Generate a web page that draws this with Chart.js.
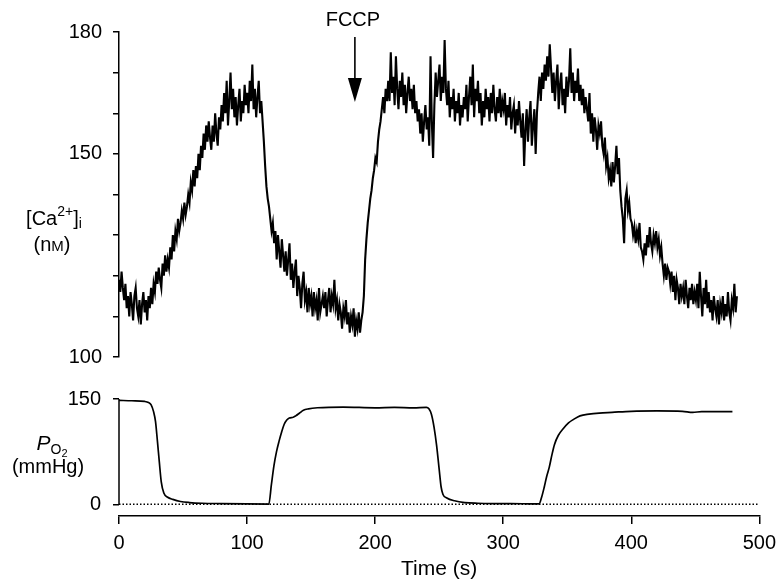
<!DOCTYPE html>
<html>
<head>
<meta charset="utf-8">
<script src="https://cdn.jsdelivr.net/npm/chart.js@4.4.0/dist/chart.umd.min.js"></script>
<style>
  html, body { margin: 0; padding: 0; background: #fff; overflow: hidden; }
  #wrap { position: relative; width: 783px; height: 584px; }
  #top { position: absolute; left: 0; top: 0; }
  #bottom { position: absolute; left: 0; top: 375px; }
</style>
</head>
<body>
<div id="wrap">
  <canvas id="top" width="783" height="380"></canvas>
  <canvas id="bottom" width="783" height="207"></canvas>
</div>
<script>
// [Ca2+]i trace (nM), one sample per second from t = 0
var caStep = 1;
var caValues = [
  119, 116, 121, 117, 114, 118, 112, 115, 110, 116,
  113, 109, 115, 117, 112, 110, 114, 108, 113, 116,
  111, 114, 109, 115, 112, 117, 113, 118, 116, 121,
  118, 122, 119, 117, 123, 120, 125, 121, 124, 122,
  127, 124, 130, 126, 131, 129, 134, 131, 133, 136,
  134, 138, 135, 137, 140, 138, 143, 141, 146, 142,
  147, 144, 150, 146, 152, 149, 155, 151, 157, 153,
  158, 154, 151, 157, 153, 160, 155, 152, 159, 156,
  162, 158, 165, 160, 168, 157, 163, 170, 161, 166,
  159, 164, 157, 162, 166, 158, 163, 160, 167, 162,
  165, 160, 168, 163, 172, 161, 166, 159, 164, 168,
  160, 163, 158, 153, 147, 142, 139, 137, 134, 131,
  133, 128, 131, 124, 130, 126, 122, 129, 125, 121,
  126, 120, 124, 128, 119, 123, 117, 121, 124, 115,
  120, 117, 112, 118, 121, 114, 116, 111, 117, 113,
  115, 110, 116, 112, 114, 109, 117, 111, 113, 115,
  112, 116, 110, 114, 117, 111, 115, 113, 119, 112,
  114, 109, 113, 111, 107, 112, 110, 114, 108, 111,
  106, 110, 108, 112, 105, 109, 107, 111, 106, 109,
  111, 115, 124, 129, 133, 136, 139, 141, 144, 146,
  149, 148, 153, 156, 158, 161, 164, 160, 166, 163,
  168, 163, 175, 165, 169, 162, 174, 166, 161, 168,
  164, 170, 162, 167, 160, 165, 169, 163, 166, 161,
  167, 160, 163, 158, 161, 155, 160, 153, 158, 162,
  156, 159, 152, 174, 158, 149, 162, 170, 164, 168,
  172, 163, 169, 165, 178, 166, 162, 168, 159, 164,
  161, 166, 158, 163, 160, 165, 157, 162, 159, 164,
  161, 167, 158, 164, 169, 162, 172, 159, 166, 163,
  168, 160, 165, 157, 163, 159, 166, 161, 164, 158,
  165, 160, 167, 161, 158, 164, 160, 166, 159, 163,
  161, 165, 157, 162, 159, 164, 156, 160, 162, 155,
  161, 157, 163, 158, 154, 160, 147, 156, 161, 153,
  159, 163, 152, 157, 161, 150, 160, 165, 169, 163,
  170, 166, 172, 168, 174, 169, 177, 171, 165, 170,
  163, 168, 172, 161, 167, 170, 162, 166, 160, 169,
  164, 168, 176, 165, 170, 163, 168, 165, 171, 163,
  167, 162, 166, 160, 164, 161, 158, 165, 155, 160,
  153, 159, 156, 151, 157, 155, 158, 152, 150, 154,
  147, 149, 144, 146, 142, 148, 143, 147, 152, 145,
  149, 141, 137, 134, 128, 139, 141, 136, 138, 134,
  133, 130, 132, 128, 131, 129, 133, 127, 126, 124,
  128, 125, 130, 127, 132, 128, 126, 130, 128, 131,
  127, 129, 125, 127, 123, 120, 123, 119, 122, 121,
  118, 121, 116, 120, 114, 119, 117, 113, 118, 115,
  117, 113, 119, 115, 112, 117, 114, 118, 113, 116,
  114, 118, 112, 121, 115, 110, 117, 113, 119, 112,
  116, 111, 114, 109, 115, 112, 110, 114, 108, 113,
  111, 115, 109, 113, 110, 116, 111, 109, 114, 112,
  118, 111, 115
];

// PO2 trace (mmHg)
var po2Times = [0, 10, 20, 23, 25, 27, 28.5, 30, 31.5, 33, 35, 38, 42, 48, 55, 65, 80, 100, 117,
  119, 121, 123, 125, 127, 129, 131, 133, 136, 138, 141, 144, 148, 155, 175, 200, 215, 230, 240,
  242, 244, 246, 248, 250, 251.5, 253, 256, 262, 270, 280, 295, 315, 328,
  330, 332, 334, 336, 338, 340, 343, 347, 351, 355, 360, 367, 375, 385, 400, 420, 440, 448, 455, 470, 479];
var po2Values = [148, 147.5, 146.5, 145, 142, 132, 118, 90, 60, 32, 16, 10, 7, 4, 2.5, 1.5, 1, 0.5, 0.3,
  28, 55, 75, 90, 103, 114, 120, 123, 124, 126, 130, 134, 136, 137.5, 138.5, 137.5, 138, 137.5, 138,
  136, 128, 110, 84, 50, 25, 14, 9, 5, 2.5, 1.5, 1, 0.8, 0.5,
  10, 24, 40, 53, 70, 85, 98, 108, 116, 121, 126, 128.5, 130, 131, 132.5, 133, 132.5, 131, 132, 132, 132];

var caTickLabels = [100, 150, 180];
var po2Ticks = [0, 150];
var timeTicks = [0, 100, 200, 300, 400, 500];
var fccpTime = 184;

var FONT = '"Liberation Sans", Arial, sans-serif';
var INK = '#000';

function fixWidth(w) {
  return function (scale) { scale.width = w; };
}

function f(size, style) {
  return (style ? style + ' ' : '') + size + 'px ' + FONT;
}

// draws a label made of several pieces (super/subscripts), centred on cx
function richText(ctx, parts, cx, baseline) {
  var total = 0;
  parts.forEach(function (p) {
    ctx.font = p.font;
    p.w = ctx.measureText(p.t).width;
    total += p.w;
  });
  var x = cx - total / 2;
  ctx.textAlign = 'left';
  ctx.textBaseline = 'alphabetic';
  parts.forEach(function (p) {
    ctx.font = p.font;
    ctx.fillText(p.t, x, baseline + (p.dy || 0));
    x += p.w;
  });
}

var caLabels = {
  id: 'caLabels',
  afterDraw: function (chart) {
    var ctx = chart.ctx;
    var ax = chart.scales.x.getPixelForValue(fccpTime);
    ctx.save();
    ctx.fillStyle = INK;
    ctx.strokeStyle = INK;
    richText(ctx, [{ t: 'FCCP', font: f(20) }], ax - 2, 26);
    ctx.lineWidth = 1.6;
    ctx.beginPath();
    ctx.moveTo(ax, 37);
    ctx.lineTo(ax, 82);
    ctx.stroke();
    ctx.beginPath();
    ctx.moveTo(ax - 7, 78);
    ctx.lineTo(ax + 7, 78);
    ctx.lineTo(ax, 102);
    ctx.closePath();
    ctx.fill();

    richText(ctx, [
      { t: '[Ca', font: f(20) },
      { t: '2+', font: f(14), dy: -9 },
      { t: ']', font: f(20) },
      { t: 'i', font: f(14), dy: 3 }
    ], 54, 225);
    richText(ctx, [
      { t: '(n', font: f(20) },
      { t: 'M', font: f(15) },
      { t: ')', font: f(20) }
    ], 52, 251);
    ctx.restore();
  }
};

var po2Labels = {
  id: 'po2Labels',
  afterDraw: function (chart) {
    var ctx = chart.ctx;
    var y = chart.scales.y;
    var left = chart.chartArea.left;
    ctx.save();
    // y axis line only spans 0..150
    ctx.strokeStyle = INK;
    ctx.lineWidth = 1.5;
    ctx.beginPath();
    ctx.moveTo(left, y.getPixelForValue(150));
    ctx.lineTo(left, y.getPixelForValue(0));
    ctx.stroke();

    ctx.fillStyle = INK;
    richText(ctx, [
      { t: 'P', font: f(21, 'italic') },
      { t: 'O', font: f(14), dy: 4 },
      { t: '2', font: f(11), dy: 7 }
    ], 52, 75);
    richText(ctx, [{ t: '(mmHg)', font: f(20) }], 48, 98);
    ctx.restore();
  }
};

var caData = caValues.map(function (v, i) { return { x: i * caStep, y: v }; });
var po2Data = po2Times.map(function (t, i) { return { x: t, y: po2Values[i] }; });

var tickFont = { family: FONT, size: 20 };

new Chart(document.getElementById('top'), {
  type: 'line',
  data: {
    datasets: [{
      data: caData,
      borderColor: INK,
      borderWidth: 2.1,
      pointRadius: 0,
      tension: 0
    }]
  },
  options: {
    responsive: false,
    animation: false,
    layout: { padding: { top: 32, right: 23, bottom: 18, left: 0 } },
    plugins: { legend: { display: false }, tooltip: { enabled: false } },
    scales: {
      x: { type: 'linear', min: 0, max: 500, display: false },
      y: {
        min: 100,
        max: 180,
        afterFit: fixWidth(119),
        border: { display: true, color: INK, width: 1.5 },
        grid: { drawOnChartArea: false, drawTicks: true, tickLength: 6, color: INK, lineWidth: 1.5 },
        ticks: {
          stepSize: 10,
          color: INK,
          padding: 11,
          font: tickFont,
          callback: function (v) { return caTickLabels.indexOf(v) >= 0 ? String(v) : ''; }
        }
      }
    }
  },
  plugins: [caLabels]
});

new Chart(document.getElementById('bottom'), {
  type: 'line',
  data: {
    datasets: [{
      data: po2Data,
      borderColor: INK,
      borderWidth: 1.7,
      pointRadius: 0,
      cubicInterpolationMode: 'monotone'
    }, {
      data: [{ x: 0, y: 0 }, { x: 500, y: 0 }],
      borderColor: INK,
      borderWidth: 1.5,
      borderDash: [1.5, 2],
      pointRadius: 0
    }]
  },
  options: {
    responsive: false,
    animation: false,
    layout: { padding: { top: 21, right: 23, bottom: 0, left: 0 } },
    plugins: { legend: { display: false }, tooltip: { enabled: false } },
    scales: {
      x: {
        type: 'linear',
        min: 0,
        max: 500,
        afterFit: function (s) { s.height = 66; },
        afterBuildTicks: function (s) { s.ticks = timeTicks.map(function (v) { return { value: v }; }); },
        border: { display: true, color: INK, width: 1.5 },
        grid: { drawOnChartArea: false, tickLength: 8, color: INK, lineWidth: 1.5 },
        ticks: { color: INK, padding: 7, maxRotation: 0, font: tickFont },
        title: { display: true, text: 'Time (s)', color: INK, padding: 0, font: { family: FONT, size: 21 } }
      },
      y: {
        min: -150 * 12 / 108,
        max: 150,
        afterFit: fixWidth(119),
        afterBuildTicks: function (s) { s.ticks = po2Ticks.map(function (v) { return { value: v }; }); },
        border: { display: false },
        grid: { drawOnChartArea: false, tickLength: 6, color: INK, lineWidth: 1.5 },
        ticks: { color: INK, padding: 12, font: tickFont }
      }
    }
  },
  plugins: [po2Labels]
});
</script>
</body>
</html>
